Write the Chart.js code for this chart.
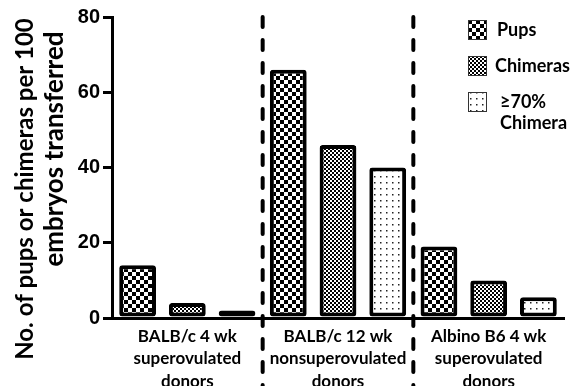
<!DOCTYPE html>
<html>
<head>
<meta charset="utf-8">
<script src="https://cdn.jsdelivr.net/npm/chart.js@4.4.0/dist/chart.umd.min.js"></script>
<style>
    html, body { margin: 0; padding: 0; background: #fff; }
    #wrap { width: 570px; height: 386px; position: relative; }
</style>
</head>
<body>
<div id="wrap"><canvas id="chart"></canvas></div>
<script>
// data
var groups = [
    ["BALB/c 4 wk", "superovulated", "donors"],
    ["BALB/c 12 wk", "nonsuperovulated", "donors"],
    ["Albino B6 4 wk", "superovulated", "donors"]
];
var pups = [14, 66, 19];
var chimeras = [4, 46, 10];
var highChimera = [2, 40, 5.5];
var yTicks = [0, 20, 40, 60, 80];
var seriesNames = ["Pups", "Chimeras", "≥70% Chimera"];
var yTitle = ["No. of pups or chimeras per 100", "embryos transferred"];

// fill patterns
function checker(size) {
    var c = document.createElement('canvas');
    c.width = c.height = size * 2;
    var g = c.getContext('2d');
    g.fillStyle = '#fff';
    g.fillRect(0, 0, size * 2, size * 2);
    g.fillStyle = '#000';
    g.fillRect(0, 0, size, size);
    g.fillRect(size, size, size, size);
    return g.createPattern(c, 'repeat');
}
function dots() {
    var c = document.createElement('canvas');
    c.width = c.height = 6;
    var g = c.getContext('2d');
    g.fillStyle = '#fff';
    g.fillRect(0, 0, 6, 6);
    g.fillStyle = '#222';
    g.fillRect(2, 2, 1.5, 1.5);
    return g.createPattern(c, 'repeat');
}
var fills = [checker(4), checker(2), dots()];

var barStyle = {
    borderColor: '#000',
    borderWidth: 4,
    borderRadius: 3,
    borderSkipped: false,
    categoryPercentage: 0.99,
    barPercentage: 0.74
};

// dashed separators between the groups
var separators = {
    id: 'separators',
    afterDraw: function(chart) {
        var x = chart.scales.x, c = chart.ctx;
        c.save();
        c.strokeStyle = '#000';
        c.lineWidth = 4;
        c.lineCap = 'round';
        c.setLineDash([10, 13]);
        for (var i = 0; i < groups.length - 1; i++) {
            var px = (x.getPixelForValue(i) + x.getPixelForValue(i + 1)) / 2;
            c.beginPath();
            c.moveTo(px, 17);
            c.lineTo(px, chart.height);
            c.stroke();
        }
        c.restore();
    }
};

// two-line y title, each line sized and centred like the original
var yAxisTitle = {
    id: 'yAxisTitle',
    afterDraw: function(chart) {
        var c = chart.ctx;
        var spec = [
            {size: 24, x: 33, y: 189},
            {size: 26, x: 63, y: 149}
        ];
        c.save();
        c.fillStyle = '#000';
        c.textAlign = 'center';
        c.textBaseline = 'alphabetic';
        yTitle.forEach(function(t, i) {
            c.save();
            c.translate(spec[i].x, spec[i].y);
            c.rotate(-Math.PI / 2);
            c.font = 'bold ' + spec[i].size + 'px Lato';
            c.fillText(t, 0, 0);
            c.restore();
        });
        c.restore();
    }
};

// legend stacked in the top right corner
var cornerLegend = {
    id: 'cornerLegend',
    afterDraw: function(chart) {
        var c = chart.ctx, a = chart.chartArea;
        var bx = a.right - 96, y = a.top + 13;
        c.save();
        c.font = 'bold 18px Lato';
        c.textBaseline = 'middle';
        chart.data.datasets.forEach(function(ds, i) {
            c.fillStyle = ds.backgroundColor;
            c.fillRect(bx, y - 10, 19, 20);
            c.strokeStyle = '#333';
            c.lineWidth = 1;
            c.strokeRect(bx + 0.5, y - 9.5, 18, 19);
            c.fillStyle = '#000';
            var lines = i == 2 ? ds.label.split(' ') : [ds.label];
            var tx = i == 1 ? bx + 27 : (i == 2 ? bx + 32 : bx + 29);
            lines.forEach(function(t, k) {
                c.fillText(t, tx, y + k * 21);
            });
            y += 36;
        });
        c.restore();
    }
};

new Chart(document.getElementById('chart').getContext('2d'), {
    type: 'bar',
    data: {
        labels: groups,
        datasets: [
            Object.assign({label: seriesNames[0], data: pups, backgroundColor: fills[0]}, barStyle),
            Object.assign({label: seriesNames[1], data: chimeras, backgroundColor: fills[1]}, barStyle),
            Object.assign({label: seriesNames[2], data: highChimera, backgroundColor: fills[2]}, barStyle)
        ]
    },
    options: {
        responsive: true,
        maintainAspectRatio: false,
        animation: false,
        layout: {padding: {top: 17, right: 6, left: 0, bottom: 0}},
        plugins: {legend: {display: false}, tooltip: {enabled: false}},
        scales: {
            x: {
                grid: {display: false},
                border: {display: true, color: '#000', width: 3},
                ticks: {
                    color: '#000',
                    padding: -1,
                    maxRotation: 0,
                    autoSkip: false,
                    font: {family: 'Lato', weight: 'bold', size: 17, lineHeight: 1.32}
                },
                afterFit: function(s) { s.height = 68; }
            },
            y: {
                min: 0,
                max: 80,
                afterBuildTicks: function(s) {
                    s.ticks = yTicks.map(function(v) { return {value: v}; });
                },
                grid: {drawOnChartArea: false, drawTicks: true, tickLength: 9, color: '#000', lineWidth: 3},
                border: {display: true, color: '#000', width: 3},
                ticks: {
                    color: '#000',
                    padding: 3,
                    font: {family: 'Liberation Sans', weight: 'bold', size: 20}
                },
                afterFit: function(s) { s.width = 112; }
            }
        }
    },
    plugins: [separators, yAxisTitle, cornerLegend]
});
</script>
</body>
</html>
